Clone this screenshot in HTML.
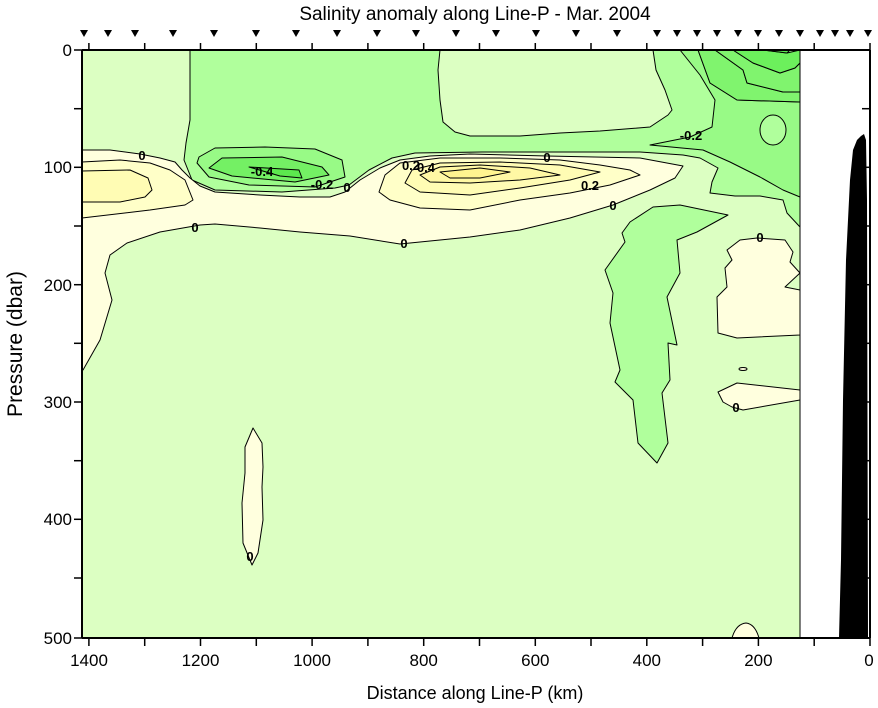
<!DOCTYPE html>
<html><head><meta charset="utf-8"><style>
body{margin:0;background:#fff;}
svg{display:block;font-family:"Liberation Sans",sans-serif;}
</style></head><body>
<svg width="878" height="708" viewBox="0 0 878 708" xmlns="http://www.w3.org/2000/svg">
<rect width="878" height="708" fill="#fff"/>
<g stroke="#000" stroke-width="1" stroke-linejoin="round">
<rect x="82" y="50" width="718" height="588" fill="#DCFFC2" stroke="none"/>
<path fill="#B0FF9C" d="M190,50 L440,50 L438,70 L440,100 L443,122 L455,132 L470,136 L520,136 L560,133 L600,131 L650,127 L668,115 L672,110 L665,90 L656,70 L653,50 L800,50 L800,227 L787,213 L783,200 L760,196 L735,196 L710,193 L712,182 L718,168 L700,158 L683,155 L640,152 L560,152 L482,152 L415,153 L392,158 L369,170 L349,185 L335,188 L282,192 L215,190 L192,180 L184,160 L186,143 L190,120 Z"/>
<path fill="#98FA86" d="M680,50 L698,50 L710,83 L737,100 L800,102 L800,197 L783,190 L760,177 L730,162 L703,150 L650,145 L690,137 L712,127 L715,100 L700,75 Z"/>
<ellipse cx="773" cy="130" rx="13" ry="15" fill="#B0FF9C"/>
<path fill="#80F46E" d="M698,50 L715,50 L743,70 L747,83 L783,92 L800,92 L800,102 L737,100 L710,83 Z"/>
<path fill="#80F46E" d="M715,50 L733,50 L753,63 L780,73 L795,68 L800,63 L800,92 L783,92 L747,83 L743,70 Z"/>
<path fill="#6CF05C" d="M733,50 L763,50 L787,53 L800,50 L800,63 L795,68 L780,73 L753,63 Z"/>
<path fill="#58EC4C" d="M763,50 L790,50 L787,53 Z"/>
<path fill="#98FA86" d="M199,157 L215,148 L265,147 L315,149 L342,160 L345,177 L315,187 L249,185 L209,177 L197,163 Z"/>
<path fill="#74F064" d="M209,168 L222,158 L282,157 L322,167 L329,175 L295,182 L232,176 Z"/>
<path fill="#5CE84E" d="M249,167 L299,170 L302,178 L280,176 Z"/>
<path fill="#FFFFDE" d="M82,150 L110,150 L140,154 L160,158 L175,162 L182,170 L190,178 L200,186 L215,192 L260,195 L300,197 L330,197 L345,192 L360,180 L380,168 L400,160 L430,156 L470,154 L547,156 L640,158 L683,166 L675,178 L650,190 L613,205 L570,218 L520,230 L470,237 L440,240 L400,244 L350,236 L300,232 L260,228 L215,224 L200,225 L160,232 L127,243 L110,255 L105,273 L112,300 L100,340 L83,370 L82,370 Z"/>
<path fill="#FFFFC8" d="M82,162 L120,160 L150,163 L170,170 L185,180 L193,200 L185,205 L150,210 L82,218 Z"/>
<path fill="#FFFCB4" d="M82,171 L130,170 L148,178 L152,190 L145,197 L120,202 L82,202 Z"/>
<path fill="#FFFFC8" d="M379,192 L385,175 L400,163 L440,158 L500,158 L560,160 L600,165 L630,170 L640,175 L610,185 L570,193 L520,200 L470,210 L420,208 L390,200 Z"/>
<path fill="#FFFCB4" d="M405,183 L412,170 L440,163 L500,162 L560,165 L600,172 L570,180 L520,188 L470,195 L420,192 Z"/>
<path fill="#FFF8A4" d="M420,175 L440,167 L480,165 L530,168 L560,175 L520,180 L470,183 L430,182 Z"/>
<path fill="#FFF490" d="M440,172 L480,168 L510,172 L480,178 L450,178 Z"/>
<path fill="#B0FF9C" d="M728,215 L680,205 L653,207 L630,222 L622,233 L625,242 L605,270 L613,293 L610,323 L620,370 L615,382 L633,400 L638,443 L657,463 L668,443 L662,393 L670,380 L668,343 L677,345 L667,297 L680,273 L677,240 L697,232 Z"/>
<path fill="#FFFFDE" d="M727,250 L740,240 L757,238 L785,240 L793,252 L790,262 L800,273 L785,287 L800,290 L800,335 L737,338 L718,333 L717,297 L727,287 L725,268 L732,260 Z"/>
<path fill="#FFFFDE" d="M718,392 L737,383 L800,390 L800,400 L743,410 L732,407 L723,402 Z"/>
<ellipse cx="743" cy="369" rx="4" ry="1.5" fill="#FFFFDE"/>
<path fill="#FFFFDE" d="M253,428 L262,443 L263,467 L262,487 L263,520 L258,553 L252,565 L243,543 L242,503 L245,473 L245,447 Z"/>
<path fill="#FFFFDE" d="M732,638 Q736,624 746,623 Q755,624 759,638 Z"/>
<rect x="800" y="50" width="70" height="588" fill="#fff" stroke="none"/>
<line x1="800" y1="50" x2="800" y2="638"/>
<path fill="#000" stroke="none" d="M839,638 L841,560 L843,400 L846,260 L850,180 L853,150 L857,140 L861,136 L864,134 L866,140 L867,200 L868,638 Z"/>
</g>
<g font-size="13" font-weight="bold" fill="#000" text-anchor="middle">
<text x="142" y="160">0</text>
<text x="195" y="232">0</text>
<text x="262" y="176">-0.4</text>
<text x="322" y="189">-0.2</text>
<text x="347" y="192">0</text>
<text x="404" y="248">0</text>
<text x="411" y="170">0.2</text>
<text x="426" y="172">0.4</text>
<text x="547" y="162">0</text>
<text x="590" y="190">0.2</text>
<text x="613" y="210">0</text>
<text x="691" y="140">-0.2</text>
<text x="760" y="242">0</text>
<text x="736" y="412">0</text>
<text x="250" y="561">0</text>
</g>
<g stroke="#000" stroke-width="2" fill="none">
<line x1="82" y1="50" x2="870" y2="50"/>
<line x1="82" y1="638" x2="870" y2="638"/>
<line x1="82" y1="50" x2="82" y2="638"/>
<line x1="870" y1="50" x2="870" y2="638"/>
</g>
<g stroke="#000" stroke-width="1.5">
<line x1="870" y1="638" x2="870" y2="646"/><line x1="814.2" y1="638" x2="814.2" y2="646"/><line x1="758.4" y1="638" x2="758.4" y2="646"/><line x1="702.6" y1="638" x2="702.6" y2="646"/><line x1="646.8" y1="638" x2="646.8" y2="646"/><line x1="591" y1="638" x2="591" y2="646"/><line x1="535.3" y1="638" x2="535.3" y2="646"/><line x1="479.5" y1="638" x2="479.5" y2="646"/><line x1="423.7" y1="638" x2="423.7" y2="646"/><line x1="367.9" y1="638" x2="367.9" y2="646"/><line x1="312.1" y1="638" x2="312.1" y2="646"/><line x1="256.3" y1="638" x2="256.3" y2="646"/><line x1="200.5" y1="638" x2="200.5" y2="646"/><line x1="144.7" y1="638" x2="144.7" y2="646"/><line x1="88.9" y1="638" x2="88.9" y2="646"/>
<line x1="870" y1="50" x2="870" y2="43"/><line x1="814.2" y1="50" x2="814.2" y2="43"/><line x1="758.4" y1="50" x2="758.4" y2="43"/><line x1="702.6" y1="50" x2="702.6" y2="43"/><line x1="646.8" y1="50" x2="646.8" y2="43"/><line x1="591" y1="50" x2="591" y2="43"/><line x1="535.3" y1="50" x2="535.3" y2="43"/><line x1="479.5" y1="50" x2="479.5" y2="43"/><line x1="423.7" y1="50" x2="423.7" y2="43"/><line x1="367.9" y1="50" x2="367.9" y2="43"/><line x1="312.1" y1="50" x2="312.1" y2="43"/><line x1="256.3" y1="50" x2="256.3" y2="43"/><line x1="200.5" y1="50" x2="200.5" y2="43"/><line x1="144.7" y1="50" x2="144.7" y2="43"/><line x1="88.9" y1="50" x2="88.9" y2="43"/>
<line x1="74" y1="50" x2="82" y2="50"/><line x1="74" y1="108.7" x2="82" y2="108.7"/><line x1="74" y1="167.3" x2="82" y2="167.3"/><line x1="74" y1="226" x2="82" y2="226"/><line x1="74" y1="284.7" x2="82" y2="284.7"/><line x1="74" y1="343.3" x2="82" y2="343.3"/><line x1="74" y1="402" x2="82" y2="402"/><line x1="74" y1="460.7" x2="82" y2="460.7"/><line x1="74" y1="519.3" x2="82" y2="519.3"/><line x1="74" y1="578" x2="82" y2="578"/><line x1="74" y1="638" x2="82" y2="638"/>
<line x1="862" y1="108.7" x2="870" y2="108.7"/><line x1="862" y1="167.3" x2="870" y2="167.3"/><line x1="862" y1="226" x2="870" y2="226"/><line x1="862" y1="284.7" x2="870" y2="284.7"/><line x1="862" y1="343.3" x2="870" y2="343.3"/><line x1="862" y1="402" x2="870" y2="402"/><line x1="862" y1="460.7" x2="870" y2="460.7"/><line x1="862" y1="519.3" x2="870" y2="519.3"/><line x1="862" y1="578" x2="870" y2="578"/>
</g>
<g font-size="17" fill="#000" text-anchor="middle">
<text x="89" y="666">1400</text><text x="200.5" y="666">1200</text><text x="312.1" y="666">1000</text><text x="423.7" y="666">800</text><text x="535.3" y="666">600</text><text x="646.8" y="666">400</text><text x="758.4" y="666">200</text><text x="869" y="666">0</text>
</g>
<g font-size="17" fill="#000" text-anchor="end">
<text x="72" y="56">0</text><text x="72" y="173">100</text><text x="72" y="291">200</text><text x="72" y="408">300</text><text x="72" y="525">400</text><text x="72" y="644">500</text>
</g>
<text x="475" y="699" font-size="18" text-anchor="middle">Distance along Line-P (km)</text>
<text x="475" y="20" font-size="19" text-anchor="middle">Salinity anomaly along Line-P - Mar. 2004</text>
<text transform="translate(22,344) rotate(-90)" font-size="21" text-anchor="middle">Pressure (dbar)</text>
<g fill="#000">
<path d="M80,30 h8 l-4,7 z"/><path d="M104,30 h8 l-4,7 z"/><path d="M131,30 h8 l-4,7 z"/><path d="M169,30 h8 l-4,7 z"/><path d="M210,30 h8 l-4,7 z"/><path d="M252,30 h8 l-4,7 z"/><path d="M292,30 h8 l-4,7 z"/><path d="M333,30 h8 l-4,7 z"/><path d="M373,30 h8 l-4,7 z"/><path d="M412,30 h8 l-4,7 z"/><path d="M452,30 h8 l-4,7 z"/><path d="M492,30 h8 l-4,7 z"/><path d="M532,30 h8 l-4,7 z"/><path d="M572,30 h8 l-4,7 z"/><path d="M613,30 h8 l-4,7 z"/><path d="M653,30 h8 l-4,7 z"/><path d="M673,30 h8 l-4,7 z"/><path d="M693,30 h8 l-4,7 z"/><path d="M713,30 h8 l-4,7 z"/><path d="M734,30 h8 l-4,7 z"/><path d="M754,30 h8 l-4,7 z"/><path d="M775,30 h8 l-4,7 z"/><path d="M796,30 h8 l-4,7 z"/><path d="M816,30 h8 l-4,7 z"/><path d="M831,30 h8 l-4,7 z"/><path d="M846,30 h8 l-4,7 z"/><path d="M864,30 h8 l-4,7 z"/>
</g>
</svg>
</body></html>
